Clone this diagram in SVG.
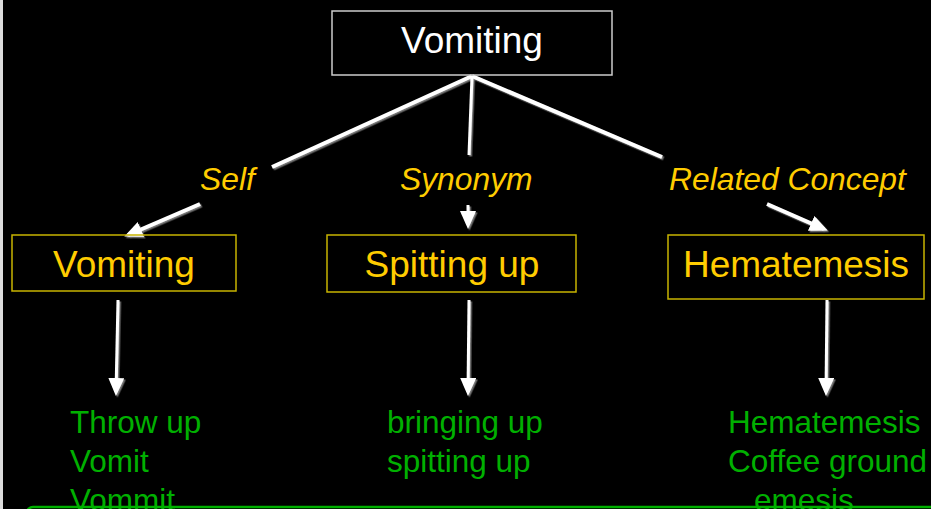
<svg xmlns="http://www.w3.org/2000/svg" width="931" height="509" viewBox="0 0 931 509">
<defs>
<style>
.box{fill:none;stroke:#C8B400;stroke-width:1.5}
.top{fill:none;stroke:#CCCCCC;stroke-width:1.5}
.t{font-family:"Liberation Sans",Arial,sans-serif}
.big{font-size:37px;text-anchor:middle}
.lbl{font-size:31.8px;font-style:italic;fill:#FFCC00}
.grn{font-size:31.5px;fill:#00B000}
.c{stroke:#FFFFFF;stroke-width:4;fill:none}
.d{stroke:#FFFFFF;stroke-width:3;fill:none}
</style>
<marker id="ah" markerUnits="userSpaceOnUse" markerWidth="18" markerHeight="16" viewBox="0 0 18 16" refX="14" refY="8" orient="auto">
<path d="M0,0 L18,8 L0,16 z" fill="#FFFFFF"/>
</marker>
<filter id="sh" x="-10%" y="-10%" width="130%" height="130%">
<feDropShadow dx="1.5" dy="1.5" stdDeviation="0.6" flood-color="#777777" flood-opacity="1"/>
</filter>
</defs>
<rect x="0" y="0" width="931" height="509" fill="#000000"/>
<rect x="0" y="0" width="3" height="509" fill="#DDDDDD"/>
<rect x="27" y="507" width="912" height="30" rx="6" fill="none" stroke="#00B000" stroke-width="2.5"/>
<g id="connectors" filter="url(#sh)">
<line class="c" x1="472" y1="76" x2="272" y2="167"/>
<line class="c" x1="200" y1="204" x2="128" y2="235" marker-end="url(#ah)"/>
<line class="d" x1="472" y1="76" x2="469" y2="155"/>
<line class="d" x1="468" y1="205" x2="468" y2="225" marker-end="url(#ah)"/>
<line class="c" x1="472" y1="76" x2="662" y2="157"/>
<line class="c" x1="767" y1="204" x2="824" y2="229" marker-end="url(#ah)"/>
<line class="d" x1="118" y1="300" x2="116" y2="392" marker-end="url(#ah)"/>
<line class="d" x1="469" y1="300" x2="468" y2="392" marker-end="url(#ah)"/>
<line class="d" x1="827" y1="300" x2="826" y2="392" marker-end="url(#ah)"/>
</g>
<g id="node-top">
<rect class="top" x="332" y="11" width="280" height="64"/>
<text class="t big" x="472" y="53" fill="#FFFFFF">Vomiting</text>
</g>
<g id="label-self"><text class="t lbl" x="200" y="190">Self</text></g>
<g id="label-synonym"><text class="t lbl" x="400" y="190">Synonym</text></g>
<g id="label-related"><text class="t lbl" x="669" y="190">Related Concept</text></g>
<g id="node-vomiting">
<rect class="box" x="12" y="235" width="224" height="56"/>
<text class="t big" x="124" y="277" fill="#FFCC00">Vomiting</text>
</g>
<g id="node-spitting">
<rect class="box" x="327" y="235" width="249" height="57"/>
<text class="t big" x="452" y="277" fill="#FFCC00">Spitting up</text>
</g>
<g id="node-hematemesis">
<rect class="box" x="668" y="235" width="256" height="64"/>
<text class="t big" x="796" y="277" fill="#FFCC00">Hematemesis</text>
</g>
<g id="terms-vomiting">
<text class="t grn" x="70" y="433">Throw up</text>
<text class="t grn" x="70" y="472">Vomit</text>
<text class="t grn" x="70" y="511">Vommit</text>
</g>
<g id="terms-spitting">
<text class="t grn" x="387" y="433">bringing up</text>
<text class="t grn" x="387" y="472">spitting up</text>
</g>
<g id="terms-hematemesis">
<text class="t grn" x="728" y="433">Hematemesis</text>
<text class="t grn" x="728" y="472">Coffee ground</text>
<text class="t grn" x="754" y="511">emesis</text>
</g>
</svg>
